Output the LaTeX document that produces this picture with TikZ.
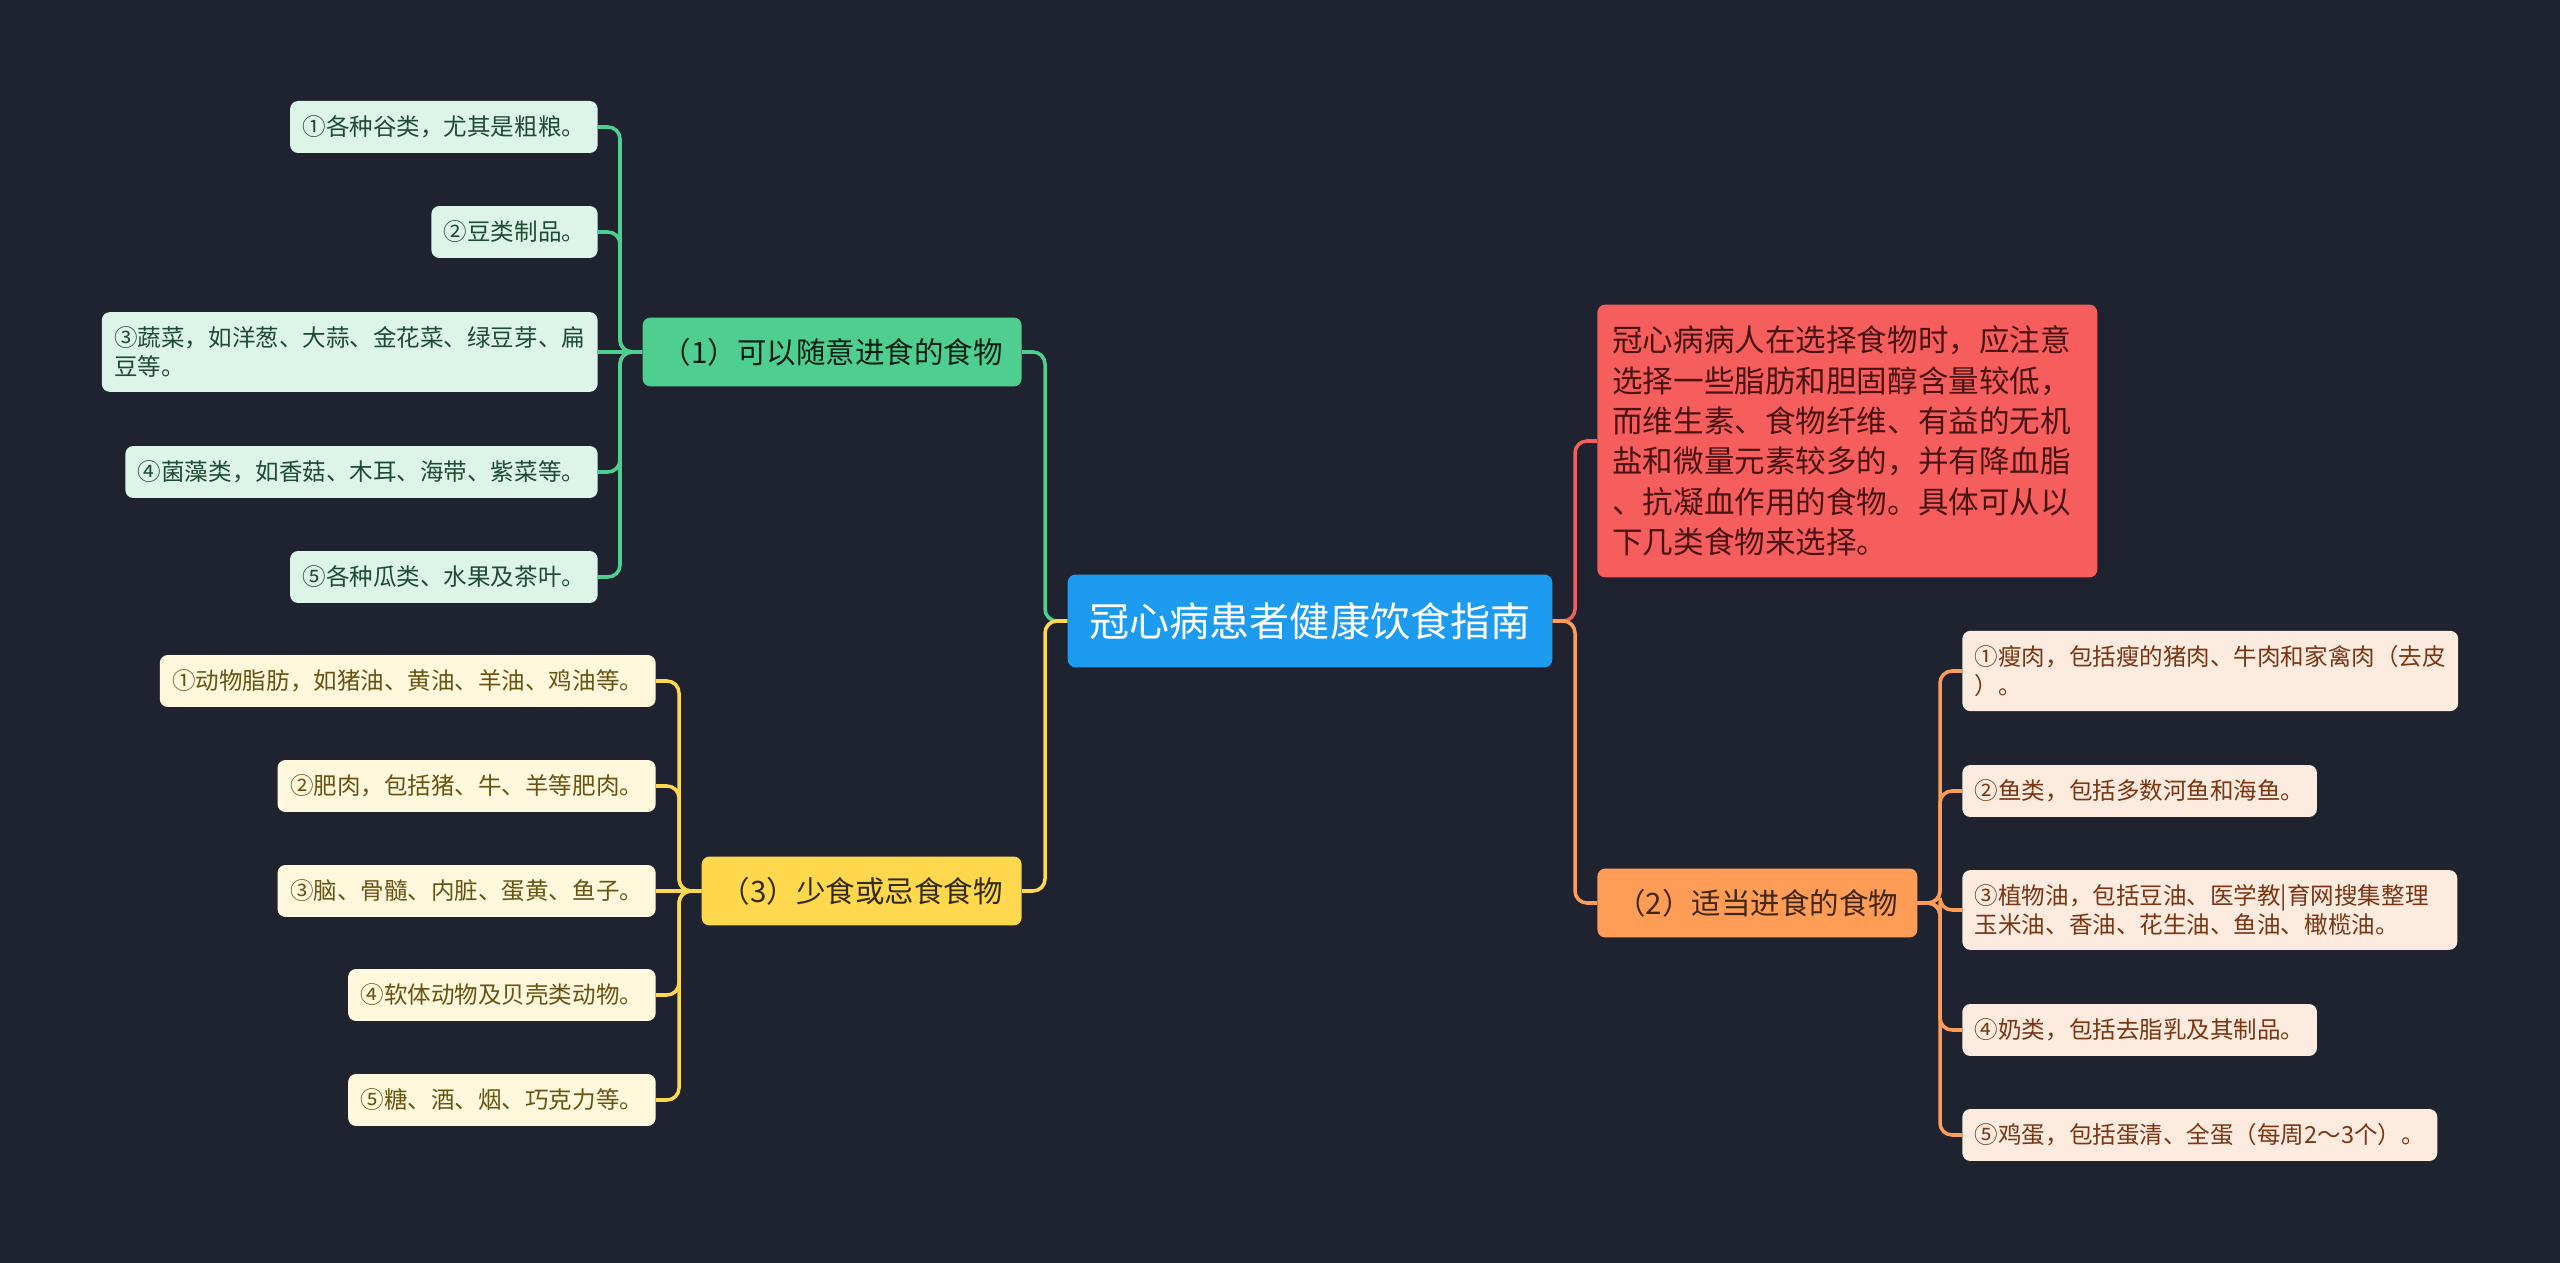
\documentclass[tikz,border=0pt]{standalone}
\usepackage{fontspec}
\setmainfont{Noto Sans CJK SC}
\usetikzlibrary{positioning,calc}
\definecolor{cbg}{HTML}{1F2330}
\definecolor{croot}{HTML}{1C9BF0}
\definecolor{cgreen}{HTML}{4FCF8F}
\definecolor{cgreenleaf}{HTML}{DDF5E9}
\definecolor{cgreentext}{HTML}{1F4A34}
\definecolor{cyellow}{HTML}{FFD84D}
\definecolor{cyellowleaf}{HTML}{FFF8DD}
\definecolor{cyellowtext}{HTML}{6A5312}
\definecolor{corange}{HTML}{FF9D57}
\definecolor{corangeleaf}{HTML}{FDEBDF}
\definecolor{corangetext}{HTML}{7A3512}
\definecolor{cred}{HTML}{F65E5E}
\definecolor{credtext}{HTML}{4A1212}
\tikzset{
  box/.style={rounded corners=0.16cm, inner xsep=0.25cm, align=left},
  leaf/.style={box, font=\fontsize{13.4}{17}\selectfont, inner ysep=0.28cm, minimum height=1.04cm},
  branch/.style={box, font=\fontsize{16.8}{20}\selectfont, inner xsep=0.38cm, minimum height=1.38cm},
  link/.style={line width=2pt, rounded corners=0.24cm},
}

\begin{document}
\begin{tikzpicture}[x=0.02cm, y=-0.02cm]
    \fill[cbg] (0,0) rectangle (2560,1263);
    \useasboundingbox (0,0) rectangle (2560,1263);
    % centre and main branches
    \node[box, fill=croot, text=white, font=\fontsize{22.8}{26}\selectfont,
      inner xsep=0.44cm, minimum height=1.86cm] (root) at (1310,621) {冠心病患者健康饮食指南};
    \node[branch, fill=cgreen, text=black!85!cgreen, anchor=east] (eat) at (1022,352) {（1）可以随意进食的食物};
    \node[branch, fill=cyellow, text=black!80!cyellow, anchor=east] (less) at (1022,891) {（3）少食或忌食食物};
    \node[branch, fill=corange, text=black!75!corange, anchor=west] (fit) at (1597,903) {（2）适当进食的食物};
    \node[box, fill=cred, text=credtext, anchor=west, font=\fontsize{17.4}{23}\selectfont,
      text width=9.4cm, inner xsep=0.3cm, minimum height=5.46cm] (note) at (1597,441)
      {冠心病病人在选择食物时，应注意\\选择一些脂肪和胆固醇含量较低，\\而维生素、食物纤维、有益的无机\\盐和微量元素较多的，并有降血脂\\、抗凝血作用的食物。具体可从以\\下几类食物来选择。};
    % trunks
    \coordinate (lt) at (1045,621);
    \coordinate (rt) at (1575,621);
    \coordinate (gt) at (620,352);
    \coordinate (yt) at (679,891);
    \coordinate (ot) at (1940,903);
    % green leaves
    \node[leaf, fill=cgreenleaf, text=cgreentext, anchor=east] (g1) at (598,127) {①各种谷类，尤其是粗粮。};
    \node[leaf, fill=cgreenleaf, text=cgreentext, anchor=east] (g2) at (598,232) {②豆类制品。};
    \node[leaf, fill=cgreenleaf, text=cgreentext, anchor=east] (g3) at (598,352) {③蔬菜，如洋葱、大蒜、金花菜、绿豆芽、扁\\豆等。};
    \node[leaf, fill=cgreenleaf, text=cgreentext, anchor=east] (g4) at (598,472) {④菌藻类，如香菇、木耳、海带、紫菜等。};
    \node[leaf, fill=cgreenleaf, text=cgreentext, anchor=east] (g5) at (598,577) {⑤各种瓜类、水果及茶叶。};
    % yellow leaves
    \node[leaf, fill=cyellowleaf, text=cyellowtext, anchor=east] (y1) at (656,681) {①动物脂肪，如猪油、黄油、羊油、鸡油等。};
    \node[leaf, fill=cyellowleaf, text=cyellowtext, anchor=east] (y2) at (656,786) {②肥肉，包括猪、牛、羊等肥肉。};
    \node[leaf, fill=cyellowleaf, text=cyellowtext, anchor=east] (y3) at (656,891) {③脑、骨髓、内脏、蛋黄、鱼子。};
    \node[leaf, fill=cyellowleaf, text=cyellowtext, anchor=east] (y4) at (656,995) {④软体动物及贝壳类动物。};
    \node[leaf, fill=cyellowleaf, text=cyellowtext, anchor=east] (y5) at (656,1100) {⑤糖、酒、烟、巧克力等。};
    % orange leaves
    \node[leaf, fill=corangeleaf, text=corangetext, anchor=west] (o1) at (1962,671) {①瘦肉，包括瘦的猪肉、牛肉和家禽肉（去皮\\）。};
    \node[leaf, fill=corangeleaf, text=corangetext, anchor=west] (o2) at (1962,791) {②鱼类，包括多数河鱼和海鱼。};
    \node[leaf, fill=corangeleaf, text=corangetext, anchor=west, text width=9.4cm] (o3) at (1962,910) {③植物油，包括豆油、医学教|育网搜集整理\\玉米油、香油、花生油、鱼油、橄榄油。};
    \node[leaf, fill=corangeleaf, text=corangetext, anchor=west] (o4) at (1962,1030) {④奶类，包括去脂乳及其制品。};
    \node[leaf, fill=corangeleaf, text=corangetext, anchor=west] (o5) at (1962,1135) {⑤鸡蛋，包括蛋清、全蛋（每周2～3个）。};
    % connectors
    \draw[link, cgreen] (root.west) -- (lt) |- (eat.east);
    \draw[link, cyellow] (root.west) -- (lt) |- (less.east);
    \draw[link, cred] (root.east) -- (rt) |- (note.west);
    \draw[link, corange] (root.east) -- (rt) |- (fit.west);
    \draw[link, cgreen] (eat.west) -- (gt) |- (g1.east);
    \draw[link, cgreen] (eat.west) -- (gt) |- (g2.east);
    \draw[link, cgreen] (eat.west) -- (g3.east);
    \draw[link, cgreen] (eat.west) -- (gt) |- (g4.east);
    \draw[link, cgreen] (eat.west) -- (gt) |- (g5.east);
    \draw[link, cyellow] (less.west) -- (yt) |- (y1.east);
    \draw[link, cyellow] (less.west) -- (yt) |- (y2.east);
    \draw[link, cyellow] (less.west) -- (y3.east);
    \draw[link, cyellow] (less.west) -- (yt) |- (y4.east);
    \draw[link, cyellow] (less.west) -- (yt) |- (y5.east);
    \draw[link, corange] (fit.east) -- (ot) |- (o1.west);
    \draw[link, corange] (fit.east) -- (ot) |- (o2.west);
    \draw[link, corange] (fit.east) -- (ot) |- (o3.west);
    \draw[link, corange] (fit.east) -- (ot) |- (o4.west);
    \draw[link, corange] (fit.east) -- (ot) |- (o5.west);
\end{tikzpicture}
\end{document}
